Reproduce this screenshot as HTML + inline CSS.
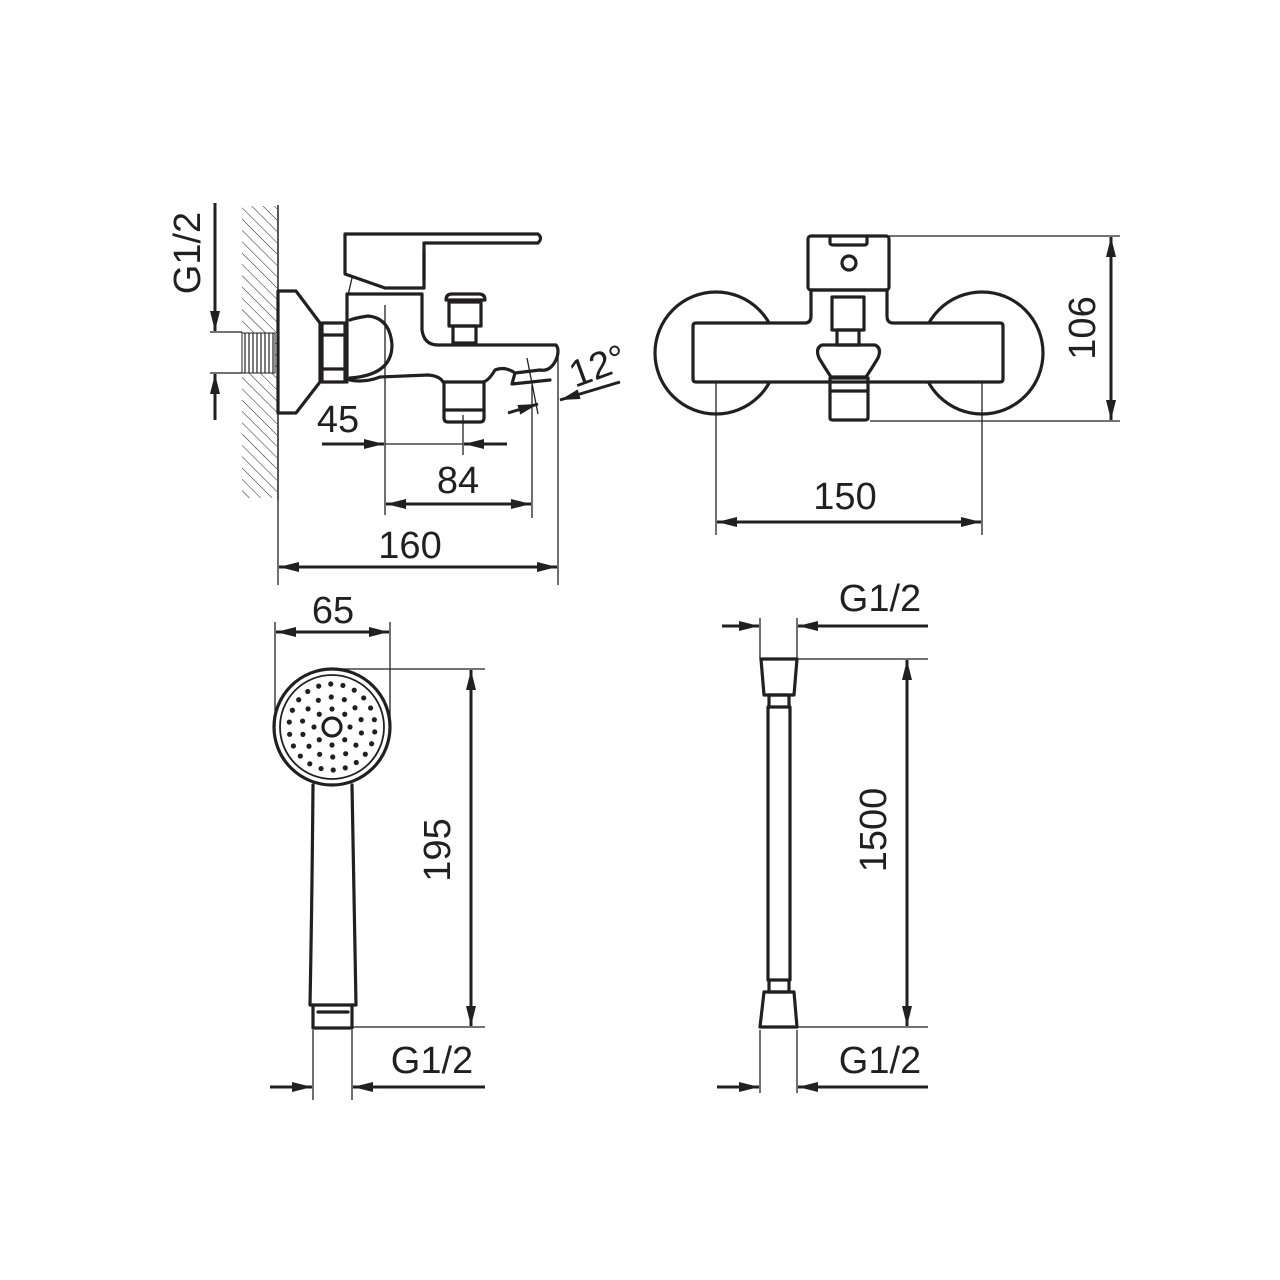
<!DOCTYPE html>
<html><head><meta charset="utf-8"><style>
html,body{margin:0;padding:0;background:#fff}
svg{display:block}
text{font-family:"Liberation Sans",sans-serif;font-size:38px;fill:#231f20}
.t{stroke:#231f20;stroke-width:3.2;fill:none;stroke-linejoin:round;stroke-linecap:round}
.d{stroke:#231f20;stroke-width:1.3;fill:none}
.a{stroke:#231f20;stroke-width:3;fill:none}
</style></head><body>
<svg id="s" width="1280" height="1280" viewBox="0 0 1280 1280" xmlns="http://www.w3.org/2000/svg">
<defs>
<marker id="ar" viewBox="0 0 20 10" refX="20" refY="5" markerWidth="20" markerHeight="10" markerUnits="userSpaceOnUse" orient="auto"><path d="M0,0 L20,5 L0,10 Z" fill="#231f20"/></marker>
<pattern id="hatch" width="8" height="8" patternUnits="userSpaceOnUse" patternTransform="rotate(-45)"><line x1="0" y1="0" x2="0" y2="8" stroke="#231f20" stroke-width="1"/></pattern>
<pattern id="vh" width="4" height="8" patternUnits="userSpaceOnUse"><line x1="1" y1="0" x2="1" y2="8" stroke="#231f20" stroke-width="1.2"/></pattern>
</defs>
<!-- wall -->
<rect x="242" y="206" width="35" height="292" fill="url(#hatch)"/>
<line x1="278" y1="205" x2="278" y2="500" class="d" style="stroke-width:1.5"/>
<!-- thread -->
<rect x="242" y="333" width="33" height="40" fill="#fff"/>
<rect x="242" y="333" width="33" height="40" fill="url(#vh)" stroke="#231f20" stroke-width="1"/>
<!-- flange -->
<path class="t" d="M278,291 L296,291 L320,323 L320,382 L296,413 L278,413 Z"/>
<rect class="t" x="322" y="323" width="23" height="59"/>
<line class="t" x1="322" y1="335" x2="345" y2="335"/><line class="t" x1="322" y1="369" x2="345" y2="369"/>
<!-- body -->
<path class="t" d="M347,382 L347,294 L422,294 L422,330 Q424,345 438,345 L556,345 Q560,350 556,360 Q550,372 540,370 L515,373 L512,384 L550,380 M515,373 Q505,366 495,370 Q488,382 482,382 L443,382 Q440,376 428,375 L380,377 Q365,383 350,380"/>
<path class="t" d="M350,378 Q392,375 392,345 Q390,318 368,316 Q355,318 350,320"/>
<!-- lever -->
<path class="t" d="M345,234 L538,234 Q543,238 538,243 L424,243 L424,288 L385,288 L345,274 Z"/>
<line class="t" x1="424" y1="252" x2="424" y2="280"/>
<line class="d" x1="352" y1="278" x2="348" y2="295"/>
<!-- cartridge -->
<path class="t" d="M446,300 Q446,294 452,294 L479,294 Q485,294 485,300 Z"/>
<rect class="t" x="449" y="302" width="32" height="24"/>
<rect class="t" x="453" y="326" width="23" height="17"/>
<!-- outlet -->
<path class="t" d="M444,382 L444,418 Q444,422 448,422 L480,422 Q484,422 484,418 L484,382"/>
<line class="t" x1="444" y1="410" x2="484" y2="410"/>
<!-- side dims -->
<text transform="translate(200,253) rotate(-90)" text-anchor="middle">G1/2</text>
<line class="a" x1="215" y1="203" x2="215" y2="331" marker-end="url(#ar)"/>
<line class="a" x1="215" y1="420" x2="215" y2="374" marker-end="url(#ar)"/>
<line class="d" x1="210" y1="332" x2="242" y2="332"/><line class="d" x1="210" y1="373" x2="242" y2="373"/>
<text x="338" y="432" text-anchor="middle">45</text>
<line class="d" x1="385" y1="305" x2="385" y2="515"/>
<line class="d" x1="463" y1="415" x2="463" y2="455"/>
<line class="a" x1="322" y1="444" x2="384" y2="444" marker-end="url(#ar)"/>
<line class="d" x1="385" y1="444" x2="463" y2="444"/>
<line class="a" x1="507" y1="444" x2="464" y2="444" marker-end="url(#ar)"/>
<text x="458" y="493" text-anchor="middle">84</text>
<line class="d" x1="532" y1="385" x2="532" y2="518"/>
<line class="a" x1="415" y1="504" x2="386" y2="504" marker-end="url(#ar)"/>
<line class="a" x1="400" y1="504" x2="531" y2="504" marker-end="url(#ar)"/>
<text x="410" y="558" text-anchor="middle">160</text>
<line class="d" x1="278" y1="500" x2="278" y2="585"/>
<line class="d" x1="558" y1="350" x2="558" y2="585"/>
<line class="a" x1="300" y1="567" x2="279" y2="567" marker-end="url(#ar)"/>
<line class="a" x1="290" y1="567" x2="557" y2="567" marker-end="url(#ar)"/>
<line class="d" x1="527" y1="358" x2="538" y2="414"/>
<text transform="translate(602,378) rotate(-20)" text-anchor="middle">12°</text>
<line class="a" x1="620" y1="382" x2="560" y2="400" marker-end="url(#ar)"/>
<line class="a" x1="508" y1="413" x2="538" y2="404" marker-end="url(#ar)"/>
<!-- front view -->
<circle class="t" cx="716" cy="353" r="61"/>
<circle class="t" cx="982" cy="353" r="61"/>
<path d="M693,323 L1003,323 L1003,382 L693,382 Z" fill="#fff"/>
<path class="t" d="M696,323 L805,323 Q811,323 811,316 L811,290 L887,290 L887,316 Q887,323 893,323 L1000,323 Q1003,323 1003,326 L1003,379 Q1003,382 1000,382 L696,382 Q693,382 693,379 L693,326 Q693,323 696,323 Z"/>
<rect x="808" y="236" width="81" height="54" rx="3" class="t" fill="#fff"/>
<path class="t" d="M830,238 L830,243 Q830,245 834,245 L864,245 Q867,245 867,243 L867,238"/>
<circle class="t" cx="849" cy="263" r="7"/>
<rect class="t" x="832" y="297" width="32" height="33" fill="#fff"/>
<rect class="t" x="837" y="330" width="22" height="15"/>
<path class="t" d="M822,345 L875,345 Q882,348 878,358 Q872,368 866,377 L831,377 Q825,368 819,358 Q815,348 822,345 Z" fill="#fff"/>
<path class="t" d="M830,378 L868,378 L868,418 Q868,420 865,420 L833,420 Q830,420 830,418 Z" fill="#fff"/>
<line class="t" x1="830" y1="391" x2="868" y2="391"/>
<line class="d" x1="889" y1="236" x2="1120" y2="236"/>
<line class="d" x1="870" y1="421" x2="1120" y2="421"/>
<line class="a" x1="1111" y1="260" x2="1111" y2="237" marker-end="url(#ar)"/>
<line class="a" x1="1111" y1="250" x2="1111" y2="420" marker-end="url(#ar)"/>
<text transform="translate(1095,328) rotate(-90)" text-anchor="middle">106</text>
<line class="d" x1="716" y1="383" x2="716" y2="535"/>
<line class="d" x1="982" y1="383" x2="982" y2="535"/>
<line class="a" x1="740" y1="522" x2="717" y2="522" marker-end="url(#ar)"/>
<line class="a" x1="730" y1="522" x2="981" y2="522" marker-end="url(#ar)"/>
<text x="845" y="509" text-anchor="middle">150</text>
<!-- shower head -->
<path class="t" d="M313,785 Q312,900 310,1005 L356,1005 Q354,900 352,785"/>
<circle class="t" cx="332" cy="727" r="58" fill="#fff"/>
<circle class="d" cx="332" cy="727" r="52" style="stroke-width:1.8"/>
<circle class="t" cx="332" cy="727" r="9"/>
<g id="holes" fill="#231f20"></g>
<path class="t" d="M313,1005 L313,1028 L352,1028 L352,1005"/>
<line class="t" x1="318" y1="1012" x2="348" y2="1012"/>
<line class="d" x1="275" y1="622" x2="275" y2="727"/>
<line class="d" x1="390" y1="622" x2="390" y2="727"/>
<line class="a" x1="300" y1="632" x2="276" y2="632" marker-end="url(#ar)"/>
<line class="a" x1="290" y1="632" x2="389" y2="632" marker-end="url(#ar)"/>
<text x="333" y="623" text-anchor="middle">65</text>
<line class="d" x1="335" y1="669" x2="485" y2="669"/>
<line class="d" x1="352" y1="1027" x2="485" y2="1027"/>
<line class="a" x1="471" y1="700" x2="471" y2="670" marker-end="url(#ar)"/>
<line class="a" x1="471" y1="690" x2="471" y2="1026" marker-end="url(#ar)"/>
<text transform="translate(450,850) rotate(-90)" text-anchor="middle">195</text>
<line class="d" x1="313" y1="1030" x2="313" y2="1100"/>
<line class="d" x1="352" y1="1030" x2="352" y2="1100"/>
<line class="a" x1="270" y1="1087" x2="312" y2="1087" marker-end="url(#ar)"/>
<line class="a" x1="485" y1="1087" x2="353" y2="1087" marker-end="url(#ar)"/>
<text x="432" y="1073" text-anchor="middle">G1/2</text>
<!-- hose -->
<path class="t" d="M761,659 L797,659 L794,695 L764,695 Z"/>
<rect class="t" x="769" y="695" width="20" height="12"/>
<line class="t" x1="768" y1="707" x2="768" y2="980"/>
<line class="t" x1="790" y1="707" x2="790" y2="980"/>
<rect class="t" x="769" y="980" width="20" height="12"/>
<path class="t" d="M764,992 L794,992 L797,1027 L760,1027 Z"/>
<line class="d" x1="760" y1="618" x2="760" y2="660"/>
<line class="d" x1="797" y1="618" x2="797" y2="660"/>
<line class="d" x1="797" y1="659" x2="928" y2="659"/>
<line class="d" x1="797" y1="1027" x2="928" y2="1027"/>
<line class="a" x1="722" y1="626" x2="759" y2="626" marker-end="url(#ar)"/>
<line class="a" x1="928" y1="626" x2="798" y2="626" marker-end="url(#ar)"/>
<text x="880" y="611" text-anchor="middle">G1/2</text>
<line class="a" x1="907" y1="690" x2="907" y2="660" marker-end="url(#ar)"/>
<line class="a" x1="907" y1="680" x2="907" y2="1026" marker-end="url(#ar)"/>
<text transform="translate(886,830) rotate(-90)" text-anchor="middle">1500</text>
<line class="d" x1="760" y1="1030" x2="760" y2="1093"/>
<line class="d" x1="797" y1="1030" x2="797" y2="1093"/>
<line class="a" x1="717" y1="1087" x2="759" y2="1087" marker-end="url(#ar)"/>
<line class="a" x1="928" y1="1087" x2="798" y2="1087" marker-end="url(#ar)"/>
<text x="880" y="1073" text-anchor="middle">G1/2</text>
</svg>
<script>
var g=document.getElementById('holes'),ns='http://www.w3.org/2000/svg';
[[18,8],[30,14],[43,22]].forEach(function(r,i){for(var k=0;k<r[1];k++){var a=k*2*Math.PI/r[1]+i*0.2;var c=document.createElementNS(ns,'circle');c.setAttribute('cx',332+r[0]*Math.cos(a));c.setAttribute('cy',727+r[0]*Math.sin(a));c.setAttribute('r',2.6);g.appendChild(c);}});
</script>
</body></html>
